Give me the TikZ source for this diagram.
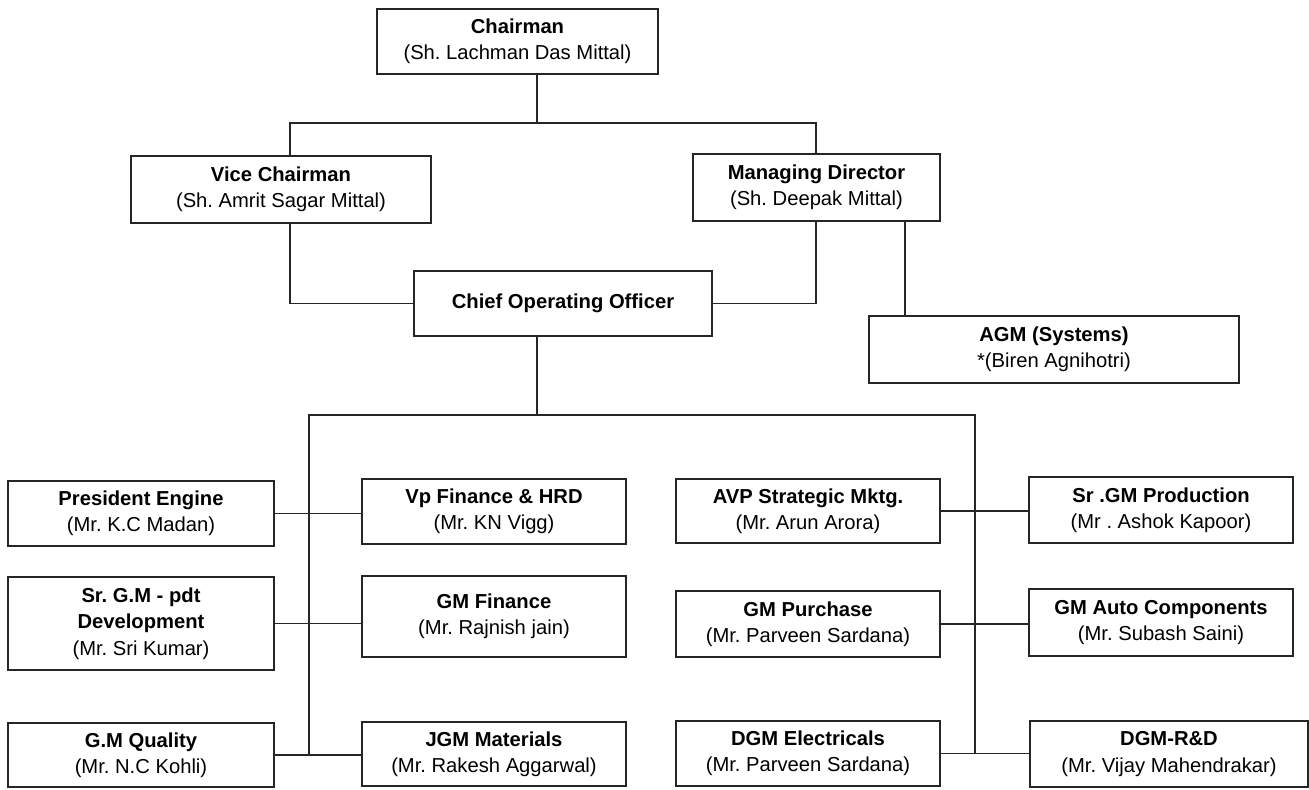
\documentclass[tikz,border=0pt]{standalone}
\usepackage{fontspec}
\setmainfont{Liberation Sans}
\usepackage{tikz}
\usetikzlibrary{positioning}
\frenchspacing

\begin{document}
\begin{tikzpicture}[x=0.02cm, y=-0.02cm,
  post/.style={draw=black!85, line width=0.8pt, align=center, inner sep=0pt, minimum width=5.28cm, minimum height=1.3cm, font=\fontsize{11.5}{15}\selectfont},
  link/.style={draw=black!85, line width=0.8pt}]
\useasboundingbox (0,0) rectangle (1309,789);
% top management
\node[post, minimum width=5.62cm] (chair) at (517.5,41.5) {\textbf{Chairman}\\(Sh. Lachman Das Mittal)};
\node[post, minimum width=6.00cm, minimum height=1.34cm] (vice) at (281,189.5) {\textbf{Vice Chairman}\\(Sh. Amrit Sagar Mittal)};
\node[post, minimum width=4.94cm, minimum height=1.34cm] (md) at (816.5,187.5) {\textbf{Managing Director}\\(Sh. Deepak Mittal)};
\node[post, minimum width=5.96cm] (coo) at (563,303.5) {\textbf{Chief Operating Officer}};
\node[post, minimum width=7.40cm, minimum height=1.34cm] (agm) at (1054,349.5) {\textbf{AGM (Systems)}\\*(Biren Agnihotri)};
% left side
\node[post, minimum width=5.32cm] (pres) at (141,513.5) {\textbf{President Engine}\\(Mr. K.C Madan)};
\node[post, minimum width=5.32cm, minimum height=1.86cm] (srgm) at (141,623.5) {\textbf{Sr. G.M - pdt}\\\textbf{Development}\\(Mr. Sri Kumar)};
\node[post, minimum width=5.32cm, minimum height=1.28cm] (gmq) at (141,755) {\textbf{G.M Quality}\\(Mr. N.C Kohli)};
\node[post] (vpfin) at (494,511.5) {\textbf{Vp Finance \& HRD}\\(Mr. KN Vigg)};
\node[post, minimum height=1.62cm] (gmfin) at (494,616.5) {\textbf{GM Finance}\\(Mr. Rajnish jain)};
\node[post, minimum height=1.28cm] (jgm) at (494,754) {\textbf{JGM Materials}\\(Mr. Rakesh Aggarwal)};
% right side
\node[post, minimum height=1.28cm] (avp) at (808,511) {\textbf{AVP Strategic Mktg.}\\(Mr. Arun Arora)};
\node[post, minimum height=1.32cm] (gmpur) at (808,624) {\textbf{GM Purchase}\\(Mr. Parveen Sardana)};
\node[post] (dgmel) at (808,753.5) {\textbf{DGM Electricals}\\(Mr. Parveen Sardana)};
\node[post, minimum height=1.32cm] (srprod) at (1161,510) {\textbf{Sr .GM Production}\\(Mr . Ashok Kapoor)};
\node[post, minimum height=1.34cm] (gmauto) at (1161,622.5) {\textbf{GM Auto Components}\\(Mr. Subash Saini)};
\node[post, minimum width=5.56cm, minimum height=1.32cm] (dgmrd) at (1169,754) {\textbf{DGM-R\&D}\\(Mr. Vijay Mahendrakar)};
% junctions
\coordinate (tl) at (290,123);
\coordinate (tm) at (537,123);
\coordinate (tr) at (816,123);
\coordinate (ag) at (905,221);
\coordinate (bl) at (309,415);
\coordinate (br) at (975,415);
% lines
\draw[link] (chair.south -| tm) -- (tm);
\draw[link] (vice.north -| tl) -- (tl) -- (tr) -- (md.north -| tr);
\draw[link] (vice.south -| tl) |- (coo.west);
\draw[link] (md.south -| tr) |- (coo.east);
\draw[link] (md.south -| ag) -- (agm.north -| ag);
\draw[link] (coo.south -| tm) -- (tm |- bl);
\draw[link] (bl |- gmq.east) -- (bl) -- (br) -- (br |- dgmel.east);
\draw[link] (pres.east) -- (pres.east -| vpfin.west);
\draw[link] (srgm.east) -- (srgm.east -| gmfin.west);
\draw[link] (gmq.east) -- (gmq.east -| jgm.west);
\draw[link] (avp.east) -- (avp.east -| srprod.west);
\draw[link] (gmpur.east) -- (gmpur.east -| gmauto.west);
\draw[link] (dgmel.east) -- (dgmel.east -| dgmrd.west);
\end{tikzpicture}
\end{document}
